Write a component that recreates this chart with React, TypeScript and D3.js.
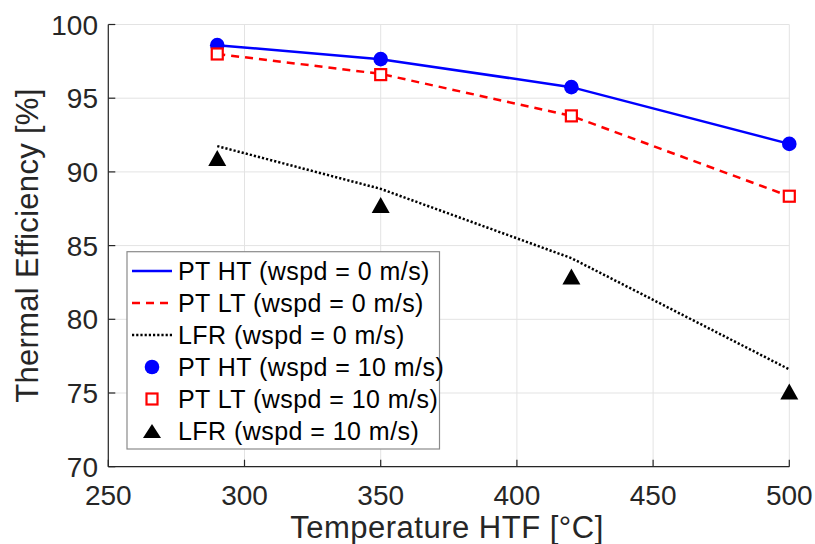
import React from "react";
import * as d3 from "d3";

const temps = [290, 350, 420, 500];
const ptHT0 = [98.6, 97.65, 95.75, 91.9];
const ptLT0 = [98.0, 96.65, 93.8, 88.35];
const lfr0 = [91.75, 88.85, 84.15, 76.6];
const ptHT10 = [98.6, 97.65, 95.75, 91.9];
const ptLT10 = [98.0, 96.6, 93.8, 88.35];
const lfr10 = [90.95, 87.75, 82.9, 75.1];
const xTicks = [250, 300, 350, 400, 450, 500];
const yTicks = [70, 75, 80, 85, 90, 95, 100];
const legendLabels = [
  "PT HT (wspd = 0 m/s)",
  "PT LT (wspd = 0 m/s)",
  "LFR (wspd = 0 m/s)",
  "PT HT (wspd = 10 m/s)",
  "PT LT (wspd = 10 m/s)",
  "LFR (wspd = 10 m/s)",
];

const FONT = "'Liberation Sans', Arial, Helvetica, sans-serif";
const TXT = "#262626";

export default function App() {
  const W = 815, H = 544;
  const x = d3.scaleLinear().domain([250, 500]).range([108.3, 789.3]);
  const y = d3.scaleLinear().domain([70, 100]).range([466.7, 24.5]);
  const line = (vals: number[]) =>
    d3.line<number>().x((_, i) => x(temps[i])).y((v) => y(v))(vals) || "";
  const tri = (cx: number, cy: number, w: number, h: number) =>
    `M${cx - w / 2},${cy + h / 2}L${cx + w / 2},${cy + h / 2}L${cx},${cy - h / 2}Z`;

  const lx0 = 132, lx1 = 172, lmx = 152;
  const rowY = (i: number) => 271 + i * 32;

  return (
    <svg width={W} height={H} style={{ position: "absolute", left: 0, top: 0, background: "#fff" }}>
      <rect x={0} y={0} width={W} height={H} fill="#fff" />
      {/* grid */}
      {xTicks.map((t) => (
        <line key={"gx" + t} x1={x(t)} x2={x(t)} y1={y(70)} y2={y(100)} stroke="#e3e3e3" strokeWidth={1} />
      ))}
      {yTicks.map((t) => (
        <line key={"gy" + t} x1={x(250)} x2={x(500)} y1={y(t)} y2={y(t)} stroke="#e3e3e3" strokeWidth={1} />
      ))}
      {/* axes */}
      <line x1={x(250)} x2={x(500)} y1={y(70)} y2={y(70)} stroke={TXT} strokeWidth={1.2} />
      <line x1={x(250)} x2={x(250)} y1={y(70)} y2={y(100)} stroke={TXT} strokeWidth={1.2} />
      {xTicks.map((t) => (
        <line key={"tx" + t} x1={x(t)} x2={x(t)} y1={y(70)} y2={y(70) - 7} stroke={TXT} strokeWidth={1.2} />
      ))}
      {yTicks.map((t) => (
        <line key={"ty" + t} x1={x(250)} x2={x(250) + 7} y1={y(t)} y2={y(t)} stroke={TXT} strokeWidth={1.2} />
      ))}
      {xTicks.map((t) => (
        <text key={"lx" + t} x={x(t)} y={505} textAnchor="middle" fontFamily={FONT} fontSize={28} fill={TXT}>
          {t}
        </text>
      ))}
      {yTicks.map((t) => (
        <text key={"ly" + t} x={98} y={y(t) + 10} textAnchor="end" fontFamily={FONT} fontSize={28} fill={TXT}>
          {t}
        </text>
      ))}
      <text x={447} y={538} textAnchor="middle" fontFamily={FONT} fontSize={31} letterSpacing={0.5} fill={TXT}>
        Temperature HTF [°C]
      </text>
      <text
        transform={`translate(38,${(y(70) + y(100)) / 2}) rotate(-90)`}
        textAnchor="middle"
        fontFamily={FONT}
        fontSize={31}
        letterSpacing={0.3}
        fill={TXT}
      >
        Thermal Efficiency [%]
      </text>

      {/* lines */}
      <path d={line(lfr0)} fill="none" stroke="#000" strokeWidth={2.5} strokeDasharray="2.2,2" />
      <path d={line(ptLT0)} fill="none" stroke="#ff0000" strokeWidth={2.5} strokeDasharray="8,6" />
      <path d={line(ptHT0)} fill="none" stroke="#0000ff" strokeWidth={2.5} />

      {/* markers */}
      {ptHT10.map((v, i) => (
        <circle key={"c" + i} cx={x(temps[i])} cy={y(v)} r={7.3} fill="#0000ff" />
      ))}
      {ptLT10.map((v, i) => (
        <rect key={"s" + i} x={x(temps[i]) - 5.5} y={y(v) - 5.5} width={11} height={11} fill="#fff" stroke="#ff0000" strokeWidth={2.2} />
      ))}
      {lfr10.map((v, i) => (
        <path key={"t" + i} d={tri(x(temps[i]), y(v), 18, 16)} fill="#000" />
      ))}

      {/* legend */}
      <rect x={127} y={251.7} width={312.5} height={197.3} fill="#fff" stroke="#8a8a8a" strokeWidth={1.2} />
      <line x1={lx0} x2={lx1} y1={rowY(0)} y2={rowY(0)} stroke="#0000ff" strokeWidth={2.5} />
      <line x1={lx0} x2={lx1} y1={rowY(1)} y2={rowY(1)} stroke="#ff0000" strokeWidth={2.5} strokeDasharray="8,6" />
      <line x1={lx0} x2={lx1} y1={rowY(2)} y2={rowY(2)} stroke="#000" strokeWidth={2.5} strokeDasharray="2.2,2" />
      <circle cx={lmx} cy={rowY(3)} r={7.3} fill="#0000ff" />
      <rect x={lmx - 5.5} y={rowY(4) - 5.5} width={11} height={11} fill="#fff" stroke="#ff0000" strokeWidth={2.2} />
      <path d={tri(lmx, rowY(5), 18, 14)} fill="#000" />
      {legendLabels.map((l, i) => (
        <text key={"leg" + i} x={178} y={rowY(i) + 9} fontFamily={FONT} fontSize={25} letterSpacing={0.45} fill="#000">
          {l}
        </text>
      ))}
    </svg>
  );
}
